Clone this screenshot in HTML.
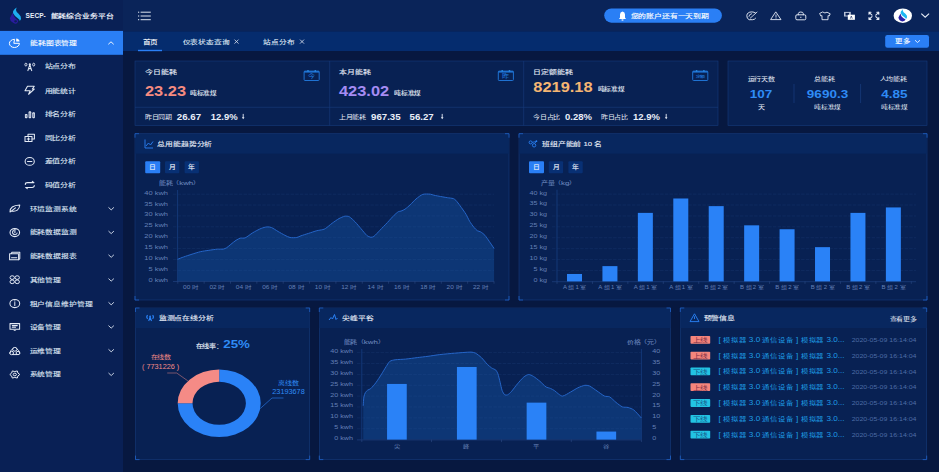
<!DOCTYPE html>
<html lang="zh-CN"><head><meta charset="utf-8"><style>
html,body{margin:0;padding:0;background:#071840;overflow:hidden}
svg{display:block;font-family:"Liberation Sans",sans-serif}
</style></head><body>
<svg width="939" height="472" viewBox="0 0 939 472">
<rect x="0" y="0" width="939.00" height="472.00" fill="#071840" />
<rect x="0" y="0" width="123.00" height="472.00" fill="#092055" />
<rect x="123" y="0" width="816.00" height="31.40" fill="#0a2459" />
<rect x="123" y="31.4" width="816.00" height="19.60" fill="#052c6e" />
<rect x="0" y="30.9" width="123.00" height="23.90" fill="#2a7ff5" />
<rect x="135" y="61" width="583.00" height="64.50" fill="#082153" stroke="#173b7c" stroke-width="0.6"/>
<line x1="329.7" y1="61" x2="329.7" y2="125.5" stroke="#173b7c" stroke-width="0.6" />
<line x1="523.7" y1="61" x2="523.7" y2="125.5" stroke="#173b7c" stroke-width="0.6" />
<line x1="135" y1="107.3" x2="718" y2="107.3" stroke="#173b7c" stroke-width="0.6" />
<rect x="728" y="61" width="199.00" height="64.50" fill="#082153" stroke="#173b7c" stroke-width="0.6"/>
<rect x="135" y="133.7" width="374.00" height="166.30" fill="#082153" stroke="#173b7c" stroke-width="0.6"/>
<rect x="135.3" y="134.0" width="373.40" height="19.70" fill="#08275f" />
<path d="M139 133.7 L135 133.7 L135 137.7" stroke="#1f62c8" stroke-width="0.8" fill="none"/>
<path d="M505 133.7 L509 133.7 L509 137.7" stroke="#1f62c8" stroke-width="0.8" fill="none"/>
<path d="M139 300 L135 300 L135 296" stroke="#1f62c8" stroke-width="0.8" fill="none"/>
<path d="M505 300 L509 300 L509 296" stroke="#1f62c8" stroke-width="0.8" fill="none"/>
<rect x="519" y="133.7" width="408.00" height="166.30" fill="#082153" stroke="#173b7c" stroke-width="0.6"/>
<rect x="519.3" y="134.0" width="407.40" height="19.70" fill="#08275f" />
<path d="M523 133.7 L519 133.7 L519 137.7" stroke="#1f62c8" stroke-width="0.8" fill="none"/>
<path d="M923 133.7 L927 133.7 L927 137.7" stroke="#1f62c8" stroke-width="0.8" fill="none"/>
<path d="M523 300 L519 300 L519 296" stroke="#1f62c8" stroke-width="0.8" fill="none"/>
<path d="M923 300 L927 300 L927 296" stroke="#1f62c8" stroke-width="0.8" fill="none"/>
<rect x="135.5" y="308" width="174.20" height="151.60" fill="#082153" stroke="#173b7c" stroke-width="0.6"/>
<rect x="135.8" y="308.3" width="173.60" height="19.70" fill="#08275f" />
<path d="M139.5 308 L135.5 308 L135.5 312" stroke="#1f62c8" stroke-width="0.8" fill="none"/>
<path d="M305.7 308 L309.7 308 L309.7 312" stroke="#1f62c8" stroke-width="0.8" fill="none"/>
<path d="M139.5 459.6 L135.5 459.6 L135.5 455.6" stroke="#1f62c8" stroke-width="0.8" fill="none"/>
<path d="M305.7 459.6 L309.7 459.6 L309.7 455.6" stroke="#1f62c8" stroke-width="0.8" fill="none"/>
<rect x="319.3" y="308" width="351.20" height="151.60" fill="#082153" stroke="#173b7c" stroke-width="0.6"/>
<rect x="319.6" y="308.3" width="350.60" height="19.70" fill="#08275f" />
<path d="M323.3 308 L319.3 308 L319.3 312" stroke="#1f62c8" stroke-width="0.8" fill="none"/>
<path d="M666.5 308 L670.5 308 L670.5 312" stroke="#1f62c8" stroke-width="0.8" fill="none"/>
<path d="M323.3 459.6 L319.3 459.6 L319.3 455.6" stroke="#1f62c8" stroke-width="0.8" fill="none"/>
<path d="M666.5 459.6 L670.5 459.6 L670.5 455.6" stroke="#1f62c8" stroke-width="0.8" fill="none"/>
<rect x="680.3" y="308" width="246.40" height="151.60" fill="#082153" stroke="#173b7c" stroke-width="0.6"/>
<rect x="680.5999999999999" y="308.3" width="245.80" height="19.70" fill="#08275f" />
<path d="M684.3 308 L680.3 308 L680.3 312" stroke="#1f62c8" stroke-width="0.8" fill="none"/>
<path d="M922.7 308 L926.7 308 L926.7 312" stroke="#1f62c8" stroke-width="0.8" fill="none"/>
<path d="M684.3 459.6 L680.3 459.6 L680.3 455.6" stroke="#1f62c8" stroke-width="0.8" fill="none"/>
<path d="M922.7 459.6 L926.7 459.6 L926.7 455.6" stroke="#1f62c8" stroke-width="0.8" fill="none"/>
<text transform="translate(25.60,18.24) scale(0.125,0.13365)" font-size="52.80" fill="#e8eef8" font-weight="700" text-anchor="start" >SECP-</text>
<text transform="translate(50.60,18.16) scale(0.125,0.09615)" font-size="62.40" fill="#e8eef8" font-weight="700" text-anchor="start" >能耗综合业务平台</text>
<text transform="translate(30.00,45.16) scale(0.125,0.09615)" font-size="62.40" fill="#ffffff" font-weight="500" text-anchor="start" stroke="#ffffff" stroke-width="0.96" >能耗图表管理</text>
<text transform="translate(44.50,68.09) scale(0.125,0.09615)" font-size="63.20" fill="#dfe6f3" font-weight="500" text-anchor="start" stroke="#dfe6f3" stroke-width="0.96" >站点分布</text>
<text transform="translate(44.50,92.59) scale(0.125,0.09615)" font-size="63.20" fill="#dfe6f3" font-weight="500" text-anchor="start" stroke="#dfe6f3" stroke-width="0.96" >用能统计</text>
<text transform="translate(44.50,116.39) scale(0.125,0.09615)" font-size="63.20" fill="#dfe6f3" font-weight="500" text-anchor="start" stroke="#dfe6f3" stroke-width="0.96" >排名分析</text>
<text transform="translate(44.50,139.59) scale(0.125,0.09615)" font-size="63.20" fill="#dfe6f3" font-weight="500" text-anchor="start" stroke="#dfe6f3" stroke-width="0.96" >同比分析</text>
<text transform="translate(44.50,163.39) scale(0.125,0.09615)" font-size="63.20" fill="#dfe6f3" font-weight="500" text-anchor="start" stroke="#dfe6f3" stroke-width="0.96" >差值分析</text>
<text transform="translate(44.50,187.29) scale(0.125,0.09615)" font-size="63.20" fill="#dfe6f3" font-weight="500" text-anchor="start" stroke="#dfe6f3" stroke-width="0.96" >码值分析</text>
<text transform="translate(29.60,210.76) scale(0.125,0.09615)" font-size="62.40" fill="#dfe6f3" font-weight="500" text-anchor="start" stroke="#dfe6f3" stroke-width="0.96" >环境监测系统</text>
<path d="M108.5 207.4 L111.2 209.9 L113.9 207.4" stroke="#dfe6f3" stroke-width="0.9" fill="none"/>
<text transform="translate(29.60,234.46) scale(0.125,0.09615)" font-size="62.40" fill="#dfe6f3" font-weight="500" text-anchor="start" stroke="#dfe6f3" stroke-width="0.96" >能耗数据监测</text>
<path d="M108.5 231.10000000000002 L111.2 233.60000000000002 L113.9 231.10000000000002" stroke="#dfe6f3" stroke-width="0.9" fill="none"/>
<text transform="translate(29.60,258.16) scale(0.125,0.09615)" font-size="62.40" fill="#dfe6f3" font-weight="500" text-anchor="start" stroke="#dfe6f3" stroke-width="0.96" >能耗数据报表</text>
<path d="M108.5 254.8 L111.2 257.3 L113.9 254.8" stroke="#dfe6f3" stroke-width="0.9" fill="none"/>
<text transform="translate(29.60,281.96) scale(0.125,0.09615)" font-size="62.40" fill="#dfe6f3" font-weight="500" text-anchor="start" stroke="#dfe6f3" stroke-width="0.96" >其他管理</text>
<path d="M108.5 278.6 L111.2 281.1 L113.9 278.6" stroke="#dfe6f3" stroke-width="0.9" fill="none"/>
<text transform="translate(29.60,305.66) scale(0.125,0.09615)" font-size="62.40" fill="#dfe6f3" font-weight="500" text-anchor="start" stroke="#dfe6f3" stroke-width="0.96" >租户信息维护管理</text>
<path d="M108.5 302.3 L111.2 304.8 L113.9 302.3" stroke="#dfe6f3" stroke-width="0.9" fill="none"/>
<text transform="translate(29.60,328.96) scale(0.125,0.09615)" font-size="62.40" fill="#dfe6f3" font-weight="500" text-anchor="start" stroke="#dfe6f3" stroke-width="0.96" >设备管理</text>
<path d="M108.5 325.6 L111.2 328.1 L113.9 325.6" stroke="#dfe6f3" stroke-width="0.9" fill="none"/>
<text transform="translate(29.60,352.66) scale(0.125,0.09615)" font-size="62.40" fill="#dfe6f3" font-weight="500" text-anchor="start" stroke="#dfe6f3" stroke-width="0.96" >运维管理</text>
<path d="M108.5 349.3 L111.2 351.8 L113.9 349.3" stroke="#dfe6f3" stroke-width="0.9" fill="none"/>
<text transform="translate(29.60,376.36) scale(0.125,0.09615)" font-size="62.40" fill="#dfe6f3" font-weight="500" text-anchor="start" stroke="#dfe6f3" stroke-width="0.96" >系统管理</text>
<path d="M108.5 373.0 L111.2 375.5 L113.9 373.0" stroke="#dfe6f3" stroke-width="0.9" fill="none"/>
<path d="M108.3 44.3 L111 41.8 L113.7 44.3" stroke="#ffffff" stroke-width="0.9" fill="none"/>
<line x1="140.6" y1="12.2" x2="150.8" y2="12.2" stroke="#e8eef8" stroke-width="0.95" />
<line x1="140.6" y1="16" x2="150.8" y2="16" stroke="#e8eef8" stroke-width="0.95" />
<line x1="140.6" y1="19.7" x2="150.8" y2="19.7" stroke="#e8eef8" stroke-width="0.95" />
<rect x="138" y="11.7" width="1.20" height="1.00" fill="#e8eef8" />
<rect x="138" y="15.5" width="1.20" height="1.00" fill="#e8eef8" />
<rect x="138" y="19.2" width="1.20" height="1.00" fill="#e8eef8" />
<rect x="604.2" y="8.5" width="117.7" height="14.2" rx="7.1" ry="7.1" fill="#2a7ff5"/>
<text transform="translate(630.50,17.99) scale(0.125,0.09615)" font-size="63.20" fill="#ffffff" font-weight="500" text-anchor="start" stroke="#ffffff" stroke-width="0.96" >您的账户还有一天到期</text>
<path d="M619 19 L626 19 L625 17.5 L625 14.5 Q625 11.8 622.5 11.5 Q620 11.8 620 14.5 L620 17.5 Z" fill="#ffffff"/><rect x="621.6" y="19.4" width="1.8" height="1.2" fill="#fff"/>
<path d="M921.3 13.6 L925.2 17.2 L929.1 13.6" stroke="#e8eef8" stroke-width="1.1" fill="none"/>
<ellipse cx="902.8" cy="15.7" rx="9.2" ry="7.2" fill="#ffffff"/>
<text transform="translate(142.50,43.72) scale(0.125,0.09615)" font-size="61.20" fill="#ffffff" font-weight="500" text-anchor="start" stroke="#ffffff" stroke-width="0.96" >首页</text>
<rect x="138" y="49.8" width="24.00" height="1.40" fill="#2a7ff5" />
<text transform="translate(182.60,43.72) scale(0.125,0.09615)" font-size="61.20" fill="#dfe6f3" font-weight="500" text-anchor="start" stroke="#dfe6f3" stroke-width="0.96" >仪表状态查询</text>
<text transform="translate(263.00,43.72) scale(0.125,0.09615)" font-size="61.20" fill="#dfe6f3" font-weight="500" text-anchor="start" stroke="#dfe6f3" stroke-width="0.96" >站点分布</text>
<path d="M234.5 39.6 L238.5 43.6 M238.5 39.6 L234.5 43.6" stroke="#dfe6f3" stroke-width="0.8"/>
<path d="M300 39.6 L304 43.6 M304 39.6 L300 43.6" stroke="#dfe6f3" stroke-width="0.8"/>
<rect x="885.2" y="35" width="43.8" height="12.7" rx="2.2" fill="#2a7ff5"/>
<text transform="translate(894.70,43.35) scale(0.125,0.09615)" font-size="59.20" fill="#ffffff" font-weight="500" text-anchor="start" stroke="#ffffff" stroke-width="0.96" >更多</text>
<path d="M915 40.2 L917.5 42.5 L920 40.2" stroke="#fff" stroke-width="0.8" fill="none"/>
<text transform="translate(145.00,74.39) scale(0.125,0.09615)" font-size="63.20" fill="#e8eef8" font-weight="500" text-anchor="start" stroke="#e8eef8" stroke-width="0.96" >今日能耗</text>
<text transform="translate(145.00,96.00) scale(0.125,0.10577)" font-size="131.20" fill="#f58b80" font-weight="700" text-anchor="start" >23.23</text>
<text transform="translate(190.00,94.86) scale(0.125,0.09615)" font-size="53.60" fill="#e8eef8" font-weight="500" text-anchor="start" stroke="#e8eef8" stroke-width="0.96" >吨标准煤</text>
<text transform="translate(145.00,118.74) scale(0.125,0.09615)" font-size="56.00" fill="#e8eef8" font-weight="400" text-anchor="start" >昨日同期</text>
<text transform="translate(176.80,119.97) scale(0.125,0.11346)" font-size="77.60" fill="#e8eef8" font-weight="700" text-anchor="start" >26.67</text>
<text transform="translate(210.80,119.90) scale(0.125,0.11346)" font-size="76.00" fill="#e8eef8" font-weight="700" text-anchor="start" >12.9%</text>
<path d="M243.2 113.9 L243.2 117.8" stroke="#e8eef8" stroke-width="0.9"/><path d="M241.89999999999998 117.3 L244.5 117.3 L243.2 119.3 Z" fill="#e8eef8"/>
<text transform="translate(339.00,74.39) scale(0.125,0.09615)" font-size="63.20" fill="#e8eef8" font-weight="500" text-anchor="start" stroke="#e8eef8" stroke-width="0.96" >本月能耗</text>
<text transform="translate(339.00,96.00) scale(0.125,0.10577)" font-size="131.20" fill="#a58cf3" font-weight="700" text-anchor="start" >423.02</text>
<text transform="translate(394.20,94.86) scale(0.125,0.09615)" font-size="53.60" fill="#e8eef8" font-weight="500" text-anchor="start" stroke="#e8eef8" stroke-width="0.96" >吨标准煤</text>
<text transform="translate(339.00,118.74) scale(0.125,0.09615)" font-size="56.00" fill="#e8eef8" font-weight="400" text-anchor="start" >上月能耗</text>
<text transform="translate(371.00,119.97) scale(0.125,0.11346)" font-size="77.60" fill="#e8eef8" font-weight="700" text-anchor="start" >967.35</text>
<text transform="translate(409.50,119.97) scale(0.125,0.11346)" font-size="77.60" fill="#e8eef8" font-weight="700" text-anchor="start" >56.27</text>
<path d="M442.2 113.9 L442.2 117.8" stroke="#e8eef8" stroke-width="0.9"/><path d="M440.9 117.3 L443.5 117.3 L442.2 119.3 Z" fill="#e8eef8"/>
<text transform="translate(533.30,74.39) scale(0.125,0.09615)" font-size="63.20" fill="#e8eef8" font-weight="500" text-anchor="start" stroke="#e8eef8" stroke-width="0.96" >日定额能耗</text>
<text transform="translate(533.30,91.70) scale(0.125,0.10577)" font-size="131.20" fill="#f5b572" font-weight="700" text-anchor="start" >8219.18</text>
<text transform="translate(597.50,90.56) scale(0.125,0.09615)" font-size="53.60" fill="#e8eef8" font-weight="500" text-anchor="start" stroke="#e8eef8" stroke-width="0.96" >吨标准煤</text>
<text transform="translate(533.30,118.74) scale(0.125,0.09615)" font-size="56.00" fill="#e8eef8" font-weight="400" text-anchor="start" >今日占比</text>
<text transform="translate(565.00,119.90) scale(0.125,0.11346)" font-size="76.00" fill="#e8eef8" font-weight="700" text-anchor="start" >0.28%</text>
<text transform="translate(601.00,118.74) scale(0.125,0.09615)" font-size="56.00" fill="#e8eef8" font-weight="400" text-anchor="start" >昨日占比</text>
<text transform="translate(633.00,119.90) scale(0.125,0.11346)" font-size="76.00" fill="#e8eef8" font-weight="700" text-anchor="start" >12.9%</text>
<path d="M666.2 113.9 L666.2 117.8" stroke="#e8eef8" stroke-width="0.9"/><path d="M664.9000000000001 117.3 L667.5 117.3 L666.2 119.3 Z" fill="#e8eef8"/>
<rect x="304.1" y="71.2" width="15.099999999999966" height="9.3" rx="0.8" fill="none" stroke="#1f72d2" stroke-width="1"/>
<rect x="304.1" y="70.9" width="15.10" height="1.70" fill="#1f72d2" />
<ellipse cx="308.0" cy="70.9" rx="0.9" ry="0.8" fill="#2a8ae0"/><ellipse cx="315.3" cy="70.9" rx="0.9" ry="0.8" fill="#2a8ae0"/>
<text transform="translate(311.65,78.48) scale(0.125,0.09615)" font-size="54.40" fill="#1f72d2" font-weight="500" text-anchor="middle" stroke="#1f72d2" stroke-width="0.96" >今</text>
<rect x="498.3" y="71.2" width="15.099999999999966" height="9.3" rx="0.8" fill="none" stroke="#1f72d2" stroke-width="1"/>
<rect x="498.3" y="70.9" width="15.10" height="1.70" fill="#1f72d2" />
<ellipse cx="502.2" cy="70.9" rx="0.9" ry="0.8" fill="#2a8ae0"/><ellipse cx="509.5" cy="70.9" rx="0.9" ry="0.8" fill="#2a8ae0"/>
<text transform="translate(505.85,78.48) scale(0.125,0.09615)" font-size="54.40" fill="#1f72d2" font-weight="500" text-anchor="middle" stroke="#1f72d2" stroke-width="0.96" >昨</text>
<rect x="692.7" y="71.2" width="15.099999999999909" height="9.3" rx="0.8" fill="none" stroke="#1f72d2" stroke-width="1"/>
<rect x="692.7" y="70.9" width="15.10" height="1.70" fill="#1f72d2" />
<ellipse cx="696.6" cy="70.9" rx="0.9" ry="0.8" fill="#2a8ae0"/><ellipse cx="703.9" cy="70.9" rx="0.9" ry="0.8" fill="#2a8ae0"/>
<text transform="translate(700.25,77.98) scale(0.125,0.09615)" font-size="40.00" fill="#1f72d2" font-weight="500" text-anchor="middle" stroke="#1f72d2" stroke-width="0.96" >定额</text>
<text transform="translate(761.00,80.94) scale(0.125,0.09615)" font-size="56.00" fill="#e8eef8" font-weight="400" text-anchor="middle" >运行天数</text>
<text transform="translate(761.00,97.54) scale(0.125,0.10385)" font-size="108.00" fill="#2f8cf6" font-weight="700" text-anchor="middle" >107</text>
<text transform="translate(761.00,109.44) scale(0.125,0.09615)" font-size="56.00" fill="#e8eef8" font-weight="400" text-anchor="middle" >天</text>
<text transform="translate(824.40,80.94) scale(0.125,0.09615)" font-size="56.00" fill="#e8eef8" font-weight="400" text-anchor="middle" >总能耗</text>
<text transform="translate(827.50,97.54) scale(0.125,0.10385)" font-size="108.00" fill="#2f8cf6" font-weight="700" text-anchor="middle" >9690.3</text>
<text transform="translate(827.50,109.36) scale(0.125,0.09615)" font-size="53.60" fill="#e8eef8" font-weight="400" text-anchor="middle" >吨标准煤</text>
<text transform="translate(893.00,80.94) scale(0.125,0.09615)" font-size="56.00" fill="#e8eef8" font-weight="400" text-anchor="middle" >人均能耗</text>
<text transform="translate(894.30,97.54) scale(0.125,0.10385)" font-size="108.00" fill="#2f8cf6" font-weight="700" text-anchor="middle" >4.85</text>
<text transform="translate(894.30,109.36) scale(0.125,0.09615)" font-size="53.60" fill="#e8eef8" font-weight="400" text-anchor="middle" >吨标准煤</text>
<line x1="794" y1="84" x2="794" y2="103" stroke="#173b7c" stroke-width="0.8" />
<line x1="860.6" y1="84" x2="860.6" y2="103" stroke="#173b7c" stroke-width="0.8" />
<text transform="translate(157.40,145.87) scale(0.125,0.09615)" font-size="62.80" fill="#e8eef8" font-weight="500" text-anchor="start" stroke="#e8eef8" stroke-width="0.96" >总用能趋势分析</text>
<path d="M145 139.5 L145 148 L153 148 M146 146 L148.5 143 L150.5 145 L153 141.5" stroke="#2a82f7" stroke-width="0.9" fill="none"/>
<rect x="145.2" y="161.2" width="15" height="12.1" rx="1" fill="#2a7ff5"/>
<text transform="translate(152.70,169.48) scale(0.125,0.09615)" font-size="54.40" fill="#e8eef8" font-weight="500" text-anchor="middle" stroke="#e8eef8" stroke-width="0.96" >日</text>
<rect x="165.0" y="161.2" width="14.3" height="12.1" rx="1" fill="#083074"/>
<text transform="translate(172.15,169.48) scale(0.125,0.09615)" font-size="54.40" fill="#e8eef8" font-weight="500" text-anchor="middle" stroke="#e8eef8" stroke-width="0.96" >月</text>
<rect x="184.6" y="161.2" width="14.3" height="12.1" rx="1" fill="#083074"/>
<text transform="translate(191.75,169.48) scale(0.125,0.09615)" font-size="54.40" fill="#e8eef8" font-weight="500" text-anchor="middle" stroke="#e8eef8" stroke-width="0.96" >年</text>
<text transform="translate(159.00,185.01) scale(0.125,0.09615)" font-size="55.20" fill="#6480b6" font-weight="500" text-anchor="start" stroke="#6480b6" stroke-width="0.96" >能耗（<tspan font-size="115%">kwh</tspan>）</text>
<path d="M177.50 259.30 C179.00 258.73 181.98 257.53 183.50 257.00 C185.61 256.26 189.87 254.87 192.00 254.20 C194.09 253.54 198.27 252.19 200.40 251.70 C202.49 251.22 206.77 250.61 208.90 250.30 C211.02 249.99 215.27 249.38 217.40 249.20 C218.87 249.08 221.87 249.33 223.30 249.10 C224.19 248.96 225.93 248.19 226.70 247.70 C227.83 246.99 229.84 245.14 230.90 244.30 C232.17 243.29 234.65 241.18 236.00 240.30 C237.00 239.65 239.17 238.50 240.30 238.20 C241.44 237.90 244.03 238.37 245.10 237.90 C247.13 237.02 250.73 233.96 252.70 232.80 C254.76 231.59 259.00 229.30 261.20 228.40 C262.60 227.83 265.61 227.03 267.10 226.90 C268.16 226.81 270.42 227.09 271.40 227.50 C273.17 228.24 276.41 230.52 278.10 231.50 C279.79 232.47 283.16 234.42 284.90 235.30 C286.14 235.92 288.66 237.25 290.00 237.50 C291.64 237.80 295.15 237.76 296.80 237.50 C297.90 237.33 299.93 236.17 301.00 235.80 C302.86 235.15 306.63 234.00 308.50 233.40 C310.60 232.73 314.77 231.26 316.90 230.70 C318.37 230.31 321.43 229.96 322.90 229.60 C323.55 229.44 324.85 228.98 325.40 228.60 C327.17 227.38 330.45 224.49 332.20 223.20 C333.85 221.99 337.21 219.59 339.00 218.60 C340.39 217.84 343.38 216.48 344.90 216.20 C345.93 216.01 348.29 216.19 349.20 216.70 C350.84 217.62 353.72 220.50 355.10 221.90 C356.67 223.50 359.53 227.00 361.00 228.70 C362.48 230.40 365.24 234.05 366.90 235.50 C367.71 236.20 369.88 237.17 370.90 237.30 C371.63 237.39 373.30 236.87 373.90 236.40 C375.52 235.14 378.33 231.91 379.80 230.40 C381.73 228.41 385.59 224.42 387.50 222.40 C389.19 220.62 392.45 216.92 394.20 215.20 C395.20 214.22 397.33 212.30 398.50 211.60 C399.03 211.28 400.41 211.32 401.00 211.10 C402.03 210.72 404.09 209.82 405.00 209.20 C406.37 208.27 408.88 206.03 410.10 204.90 C411.63 203.48 414.40 200.32 416.00 199.00 C417.57 197.70 420.93 195.02 422.80 194.40 C424.53 193.82 428.52 194.06 430.40 194.20 C431.27 194.26 432.94 195.01 433.80 195.20 C435.49 195.58 438.90 196.19 440.60 196.50 C442.30 196.81 445.70 197.42 447.40 197.70 C448.87 197.94 451.91 198.17 453.30 198.60 C454.01 198.82 455.29 199.76 455.80 200.30 C456.99 201.56 459.07 204.39 460.10 205.80 C461.62 207.89 464.65 212.10 466.00 214.30 C467.05 216.00 468.66 219.69 469.70 221.40 C470.64 222.94 472.76 225.90 473.90 227.30 C474.66 228.23 476.33 230.04 477.30 230.70 C478.03 231.19 479.94 231.44 480.70 231.90 C481.84 232.59 484.00 234.31 484.90 235.30 C486.13 236.66 488.14 239.79 489.20 241.30 C490.44 243.09 492.88 246.70 494.10 248.50 L494.1 281.2 L177.5 281.2 Z" fill="#0d3675"/>
<text transform="translate(168.00,281.68) scale(0.125,0.09615)" font-size="60.00" fill="#6480b6" font-weight="400" text-anchor="end" >0 kwh</text>
<line x1="173" y1="270.32" x2="494" y2="270.32" stroke="#3a6ab0" stroke-width="0.6" stroke-dasharray="3.5 1.2" stroke-opacity="0.22"/>
<text transform="translate(168.00,270.80) scale(0.125,0.09615)" font-size="60.00" fill="#6480b6" font-weight="400" text-anchor="end" >5 kwh</text>
<line x1="173" y1="259.44" x2="494" y2="259.44" stroke="#3a6ab0" stroke-width="0.6" stroke-dasharray="3.5 1.2" stroke-opacity="0.22"/>
<text transform="translate(168.00,259.92) scale(0.125,0.09615)" font-size="60.00" fill="#6480b6" font-weight="400" text-anchor="end" >10 kwh</text>
<line x1="173" y1="248.56" x2="494" y2="248.56" stroke="#3a6ab0" stroke-width="0.6" stroke-dasharray="3.5 1.2" stroke-opacity="0.22"/>
<text transform="translate(168.00,249.04) scale(0.125,0.09615)" font-size="60.00" fill="#6480b6" font-weight="400" text-anchor="end" >15 kwh</text>
<line x1="173" y1="237.67999999999998" x2="494" y2="237.67999999999998" stroke="#3a6ab0" stroke-width="0.6" stroke-dasharray="3.5 1.2" stroke-opacity="0.22"/>
<text transform="translate(168.00,238.16) scale(0.125,0.09615)" font-size="60.00" fill="#6480b6" font-weight="400" text-anchor="end" >20 kwh</text>
<line x1="173" y1="226.79999999999998" x2="494" y2="226.79999999999998" stroke="#3a6ab0" stroke-width="0.6" stroke-dasharray="3.5 1.2" stroke-opacity="0.22"/>
<text transform="translate(168.00,227.28) scale(0.125,0.09615)" font-size="60.00" fill="#6480b6" font-weight="400" text-anchor="end" >25 kwh</text>
<line x1="173" y1="215.92" x2="494" y2="215.92" stroke="#3a6ab0" stroke-width="0.6" stroke-dasharray="3.5 1.2" stroke-opacity="0.22"/>
<text transform="translate(168.00,216.40) scale(0.125,0.09615)" font-size="60.00" fill="#6480b6" font-weight="400" text-anchor="end" >30 kwh</text>
<line x1="173" y1="205.03999999999996" x2="494" y2="205.03999999999996" stroke="#3a6ab0" stroke-width="0.6" stroke-dasharray="3.5 1.2" stroke-opacity="0.22"/>
<text transform="translate(168.00,205.52) scale(0.125,0.09615)" font-size="60.00" fill="#6480b6" font-weight="400" text-anchor="end" >35 kwh</text>
<line x1="173" y1="194.15999999999997" x2="494" y2="194.15999999999997" stroke="#3a6ab0" stroke-width="0.6" stroke-dasharray="3.5 1.2" stroke-opacity="0.22"/>
<text transform="translate(168.00,194.64) scale(0.125,0.09615)" font-size="60.00" fill="#6480b6" font-weight="400" text-anchor="end" >40 kwh</text>
<line x1="173" y1="281.5" x2="494" y2="281.5" stroke="#1d3d7a" stroke-width="0.8" />
<line x1="177.6" y1="190" x2="177.6" y2="281.2" stroke="#153a7c" stroke-width="0.9" />
<line x1="177.8" y1="281.2" x2="177.8" y2="283.7" stroke="#2b4a85" stroke-width="0.6" />
<text transform="translate(190.97,289.20) scale(0.125,0.09615)" font-size="52.00" fill="#6480b6" font-weight="400" text-anchor="middle" >00 时</text>
<line x1="204.15" y1="281.2" x2="204.15" y2="283.7" stroke="#2b4a85" stroke-width="0.6" />
<text transform="translate(217.32,289.20) scale(0.125,0.09615)" font-size="52.00" fill="#6480b6" font-weight="400" text-anchor="middle" >02 时</text>
<line x1="230.5" y1="281.2" x2="230.5" y2="283.7" stroke="#2b4a85" stroke-width="0.6" />
<text transform="translate(243.67,289.20) scale(0.125,0.09615)" font-size="52.00" fill="#6480b6" font-weight="400" text-anchor="middle" >04 时</text>
<line x1="256.85" y1="281.2" x2="256.85" y2="283.7" stroke="#2b4a85" stroke-width="0.6" />
<text transform="translate(270.02,289.20) scale(0.125,0.09615)" font-size="52.00" fill="#6480b6" font-weight="400" text-anchor="middle" >06 时</text>
<line x1="283.20000000000005" y1="281.2" x2="283.20000000000005" y2="283.7" stroke="#2b4a85" stroke-width="0.6" />
<text transform="translate(296.37,289.20) scale(0.125,0.09615)" font-size="52.00" fill="#6480b6" font-weight="400" text-anchor="middle" >08 时</text>
<line x1="309.55" y1="281.2" x2="309.55" y2="283.7" stroke="#2b4a85" stroke-width="0.6" />
<text transform="translate(322.72,289.20) scale(0.125,0.09615)" font-size="52.00" fill="#6480b6" font-weight="400" text-anchor="middle" >10 时</text>
<line x1="335.90000000000003" y1="281.2" x2="335.90000000000003" y2="283.7" stroke="#2b4a85" stroke-width="0.6" />
<text transform="translate(349.07,289.20) scale(0.125,0.09615)" font-size="52.00" fill="#6480b6" font-weight="400" text-anchor="middle" >12 时</text>
<line x1="362.25" y1="281.2" x2="362.25" y2="283.7" stroke="#2b4a85" stroke-width="0.6" />
<text transform="translate(375.42,289.20) scale(0.125,0.09615)" font-size="52.00" fill="#6480b6" font-weight="400" text-anchor="middle" >14 时</text>
<line x1="388.6" y1="281.2" x2="388.6" y2="283.7" stroke="#2b4a85" stroke-width="0.6" />
<text transform="translate(401.77,289.20) scale(0.125,0.09615)" font-size="52.00" fill="#6480b6" font-weight="400" text-anchor="middle" >16 时</text>
<line x1="414.95000000000005" y1="281.2" x2="414.95000000000005" y2="283.7" stroke="#2b4a85" stroke-width="0.6" />
<text transform="translate(428.12,289.20) scale(0.125,0.09615)" font-size="52.00" fill="#6480b6" font-weight="400" text-anchor="middle" >18 时</text>
<line x1="441.3" y1="281.2" x2="441.3" y2="283.7" stroke="#2b4a85" stroke-width="0.6" />
<text transform="translate(454.47,289.20) scale(0.125,0.09615)" font-size="52.00" fill="#6480b6" font-weight="400" text-anchor="middle" >20 时</text>
<line x1="467.65000000000003" y1="281.2" x2="467.65000000000003" y2="283.7" stroke="#2b4a85" stroke-width="0.6" />
<text transform="translate(480.82,289.20) scale(0.125,0.09615)" font-size="52.00" fill="#6480b6" font-weight="400" text-anchor="middle" >22 时</text>
<line x1="494.00000000000006" y1="281.2" x2="494.00000000000006" y2="283.7" stroke="#2b4a85" stroke-width="0.6" />
<path d="M177.50 259.30 C179.00 258.73 181.98 257.53 183.50 257.00 C185.61 256.26 189.87 254.87 192.00 254.20 C194.09 253.54 198.27 252.19 200.40 251.70 C202.49 251.22 206.77 250.61 208.90 250.30 C211.02 249.99 215.27 249.38 217.40 249.20 C218.87 249.08 221.87 249.33 223.30 249.10 C224.19 248.96 225.93 248.19 226.70 247.70 C227.83 246.99 229.84 245.14 230.90 244.30 C232.17 243.29 234.65 241.18 236.00 240.30 C237.00 239.65 239.17 238.50 240.30 238.20 C241.44 237.90 244.03 238.37 245.10 237.90 C247.13 237.02 250.73 233.96 252.70 232.80 C254.76 231.59 259.00 229.30 261.20 228.40 C262.60 227.83 265.61 227.03 267.10 226.90 C268.16 226.81 270.42 227.09 271.40 227.50 C273.17 228.24 276.41 230.52 278.10 231.50 C279.79 232.47 283.16 234.42 284.90 235.30 C286.14 235.92 288.66 237.25 290.00 237.50 C291.64 237.80 295.15 237.76 296.80 237.50 C297.90 237.33 299.93 236.17 301.00 235.80 C302.86 235.15 306.63 234.00 308.50 233.40 C310.60 232.73 314.77 231.26 316.90 230.70 C318.37 230.31 321.43 229.96 322.90 229.60 C323.55 229.44 324.85 228.98 325.40 228.60 C327.17 227.38 330.45 224.49 332.20 223.20 C333.85 221.99 337.21 219.59 339.00 218.60 C340.39 217.84 343.38 216.48 344.90 216.20 C345.93 216.01 348.29 216.19 349.20 216.70 C350.84 217.62 353.72 220.50 355.10 221.90 C356.67 223.50 359.53 227.00 361.00 228.70 C362.48 230.40 365.24 234.05 366.90 235.50 C367.71 236.20 369.88 237.17 370.90 237.30 C371.63 237.39 373.30 236.87 373.90 236.40 C375.52 235.14 378.33 231.91 379.80 230.40 C381.73 228.41 385.59 224.42 387.50 222.40 C389.19 220.62 392.45 216.92 394.20 215.20 C395.20 214.22 397.33 212.30 398.50 211.60 C399.03 211.28 400.41 211.32 401.00 211.10 C402.03 210.72 404.09 209.82 405.00 209.20 C406.37 208.27 408.88 206.03 410.10 204.90 C411.63 203.48 414.40 200.32 416.00 199.00 C417.57 197.70 420.93 195.02 422.80 194.40 C424.53 193.82 428.52 194.06 430.40 194.20 C431.27 194.26 432.94 195.01 433.80 195.20 C435.49 195.58 438.90 196.19 440.60 196.50 C442.30 196.81 445.70 197.42 447.40 197.70 C448.87 197.94 451.91 198.17 453.30 198.60 C454.01 198.82 455.29 199.76 455.80 200.30 C456.99 201.56 459.07 204.39 460.10 205.80 C461.62 207.89 464.65 212.10 466.00 214.30 C467.05 216.00 468.66 219.69 469.70 221.40 C470.64 222.94 472.76 225.90 473.90 227.30 C474.66 228.23 476.33 230.04 477.30 230.70 C478.03 231.19 479.94 231.44 480.70 231.90 C481.84 232.59 484.00 234.31 484.90 235.30 C486.13 236.66 488.14 239.79 489.20 241.30 C490.44 243.09 492.88 246.70 494.10 248.50" stroke="#2565c8" stroke-width="1" fill="none"/>
<text transform="translate(542.00,146.17) scale(0.125,0.09615)" font-size="62.80" fill="#e8eef8" font-weight="500" text-anchor="start" stroke="#e8eef8" stroke-width="0.96" >班组产能前 10 名</text>
<circle cx="530.6" cy="142.4" r="1.5" fill="none" stroke="#2a82f7" stroke-width="0.85"/><circle cx="534.1" cy="145.3" r="1.7" fill="none" stroke="#2a82f7" stroke-width="0.85"/><circle cx="536.4" cy="141.2" r="0.9" fill="#2a82f7"/><path d="M532.1 142.4 L535.8 141.6 M534.6 143.6 L536 141.8" stroke="#2a82f7" stroke-width="0.8"/>
<rect x="529" y="161.2" width="15" height="12.1" rx="1" fill="#2a7ff5"/>
<text transform="translate(536.50,169.48) scale(0.125,0.09615)" font-size="54.40" fill="#e8eef8" font-weight="500" text-anchor="middle" stroke="#e8eef8" stroke-width="0.96" >日</text>
<rect x="548.8" y="161.2" width="14.3" height="12.1" rx="1" fill="#083074"/>
<text transform="translate(555.95,169.48) scale(0.125,0.09615)" font-size="54.40" fill="#e8eef8" font-weight="500" text-anchor="middle" stroke="#e8eef8" stroke-width="0.96" >月</text>
<rect x="568.4" y="161.2" width="14.3" height="12.1" rx="1" fill="#083074"/>
<text transform="translate(575.55,169.48) scale(0.125,0.09615)" font-size="54.40" fill="#e8eef8" font-weight="500" text-anchor="middle" stroke="#e8eef8" stroke-width="0.96" >年</text>
<text transform="translate(540.80,185.31) scale(0.125,0.09615)" font-size="55.20" fill="#6480b6" font-weight="500" text-anchor="start" stroke="#6480b6" stroke-width="0.96" >产量（<tspan font-size="115%">kg</tspan>）</text>
<text transform="translate(547.00,281.79) scale(0.125,0.09615)" font-size="57.60" fill="#6480b6" font-weight="400" text-anchor="end" >0 kg</text>
<line x1="552" y1="270.48999999999995" x2="916" y2="270.48999999999995" stroke="#3a6ab0" stroke-width="0.6" stroke-dasharray="3.5 1.2" stroke-opacity="0.22"/>
<text transform="translate(547.00,270.88) scale(0.125,0.09615)" font-size="57.60" fill="#6480b6" font-weight="400" text-anchor="end" >5 kg</text>
<line x1="552" y1="259.58" x2="916" y2="259.58" stroke="#3a6ab0" stroke-width="0.6" stroke-dasharray="3.5 1.2" stroke-opacity="0.22"/>
<text transform="translate(547.00,259.97) scale(0.125,0.09615)" font-size="57.60" fill="#6480b6" font-weight="400" text-anchor="end" >10 kg</text>
<line x1="552" y1="248.66999999999996" x2="916" y2="248.66999999999996" stroke="#3a6ab0" stroke-width="0.6" stroke-dasharray="3.5 1.2" stroke-opacity="0.22"/>
<text transform="translate(547.00,249.06) scale(0.125,0.09615)" font-size="57.60" fill="#6480b6" font-weight="400" text-anchor="end" >15 kg</text>
<line x1="552" y1="237.76" x2="916" y2="237.76" stroke="#3a6ab0" stroke-width="0.6" stroke-dasharray="3.5 1.2" stroke-opacity="0.22"/>
<text transform="translate(547.00,238.15) scale(0.125,0.09615)" font-size="57.60" fill="#6480b6" font-weight="400" text-anchor="end" >20 kg</text>
<line x1="552" y1="226.84999999999997" x2="916" y2="226.84999999999997" stroke="#3a6ab0" stroke-width="0.6" stroke-dasharray="3.5 1.2" stroke-opacity="0.22"/>
<text transform="translate(547.00,227.24) scale(0.125,0.09615)" font-size="57.60" fill="#6480b6" font-weight="400" text-anchor="end" >25 kg</text>
<line x1="552" y1="215.93999999999997" x2="916" y2="215.93999999999997" stroke="#3a6ab0" stroke-width="0.6" stroke-dasharray="3.5 1.2" stroke-opacity="0.22"/>
<text transform="translate(547.00,216.33) scale(0.125,0.09615)" font-size="57.60" fill="#6480b6" font-weight="400" text-anchor="end" >30 kg</text>
<line x1="552" y1="205.02999999999997" x2="916" y2="205.02999999999997" stroke="#3a6ab0" stroke-width="0.6" stroke-dasharray="3.5 1.2" stroke-opacity="0.22"/>
<text transform="translate(547.00,205.42) scale(0.125,0.09615)" font-size="57.60" fill="#6480b6" font-weight="400" text-anchor="end" >35 kg</text>
<line x1="552" y1="194.11999999999998" x2="916" y2="194.11999999999998" stroke="#3a6ab0" stroke-width="0.6" stroke-dasharray="3.5 1.2" stroke-opacity="0.22"/>
<text transform="translate(547.00,194.51) scale(0.125,0.09615)" font-size="57.60" fill="#6480b6" font-weight="400" text-anchor="end" >40 kg</text>
<line x1="552" y1="281.7" x2="916" y2="281.7" stroke="#1d3d7a" stroke-width="0.8" />
<line x1="557" y1="189.7" x2="557" y2="281.4" stroke="#153a7c" stroke-width="0.9" />
<rect x="567.0" y="273.9812" width="15.00" height="7.42" fill="#2a82f7" />
<text transform="translate(574.50,289.46) scale(0.125,0.09615)" font-size="48.00" fill="#6480b6" font-weight="400" text-anchor="middle" >A 组 1 室</text>
<rect x="602.43" y="266.126" width="15.00" height="15.27" fill="#2a82f7" />
<text transform="translate(609.93,289.46) scale(0.125,0.09615)" font-size="48.00" fill="#6480b6" font-weight="400" text-anchor="middle" >A 组 1 室</text>
<rect x="637.86" y="212.8852" width="15.00" height="68.51" fill="#2a82f7" />
<text transform="translate(645.36,289.46) scale(0.125,0.09615)" font-size="48.00" fill="#6480b6" font-weight="400" text-anchor="middle" >A 组 1 室</text>
<rect x="673.29" y="198.48399999999998" width="15.00" height="82.92" fill="#2a82f7" />
<text transform="translate(680.79,289.46) scale(0.125,0.09615)" font-size="48.00" fill="#6480b6" font-weight="400" text-anchor="middle" >A 组 1 室</text>
<rect x="708.72" y="206.12099999999998" width="15.00" height="75.28" fill="#2a82f7" />
<text transform="translate(716.22,289.46) scale(0.125,0.09615)" font-size="48.00" fill="#6480b6" font-weight="400" text-anchor="middle" >B 组 2 室</text>
<rect x="744.15" y="225.32259999999997" width="15.00" height="56.08" fill="#2a82f7" />
<text transform="translate(751.65,289.46) scale(0.125,0.09615)" font-size="48.00" fill="#6480b6" font-weight="400" text-anchor="middle" >B 组 2 室</text>
<rect x="779.5799999999999" y="229.25019999999998" width="15.00" height="52.15" fill="#2a82f7" />
<text transform="translate(787.08,289.46) scale(0.125,0.09615)" font-size="48.00" fill="#6480b6" font-weight="400" text-anchor="middle" >B 组 2 室</text>
<rect x="815.01" y="247.1426" width="15.00" height="34.26" fill="#2a82f7" />
<text transform="translate(822.51,289.46) scale(0.125,0.09615)" font-size="48.00" fill="#6480b6" font-weight="400" text-anchor="middle" >B 组 2 室</text>
<rect x="850.44" y="212.8852" width="15.00" height="68.51" fill="#2a82f7" />
<text transform="translate(857.94,289.46) scale(0.125,0.09615)" font-size="48.00" fill="#6480b6" font-weight="400" text-anchor="middle" >B 组 2 室</text>
<rect x="885.87" y="207.43019999999999" width="15.00" height="73.97" fill="#2a82f7" />
<text transform="translate(893.37,289.46) scale(0.125,0.09615)" font-size="48.00" fill="#6480b6" font-weight="400" text-anchor="middle" >B 组 2 室</text>
<line x1="557.0" y1="281.4" x2="557.0" y2="283.9" stroke="#2b4a85" stroke-width="0.6" />
<line x1="592.43" y1="281.4" x2="592.43" y2="283.9" stroke="#2b4a85" stroke-width="0.6" />
<line x1="627.86" y1="281.4" x2="627.86" y2="283.9" stroke="#2b4a85" stroke-width="0.6" />
<line x1="663.29" y1="281.4" x2="663.29" y2="283.9" stroke="#2b4a85" stroke-width="0.6" />
<line x1="698.72" y1="281.4" x2="698.72" y2="283.9" stroke="#2b4a85" stroke-width="0.6" />
<line x1="734.15" y1="281.4" x2="734.15" y2="283.9" stroke="#2b4a85" stroke-width="0.6" />
<line x1="769.5799999999999" y1="281.4" x2="769.5799999999999" y2="283.9" stroke="#2b4a85" stroke-width="0.6" />
<line x1="805.01" y1="281.4" x2="805.01" y2="283.9" stroke="#2b4a85" stroke-width="0.6" />
<line x1="840.44" y1="281.4" x2="840.44" y2="283.9" stroke="#2b4a85" stroke-width="0.6" />
<line x1="875.87" y1="281.4" x2="875.87" y2="283.9" stroke="#2b4a85" stroke-width="0.6" />
<line x1="911.3" y1="281.4" x2="911.3" y2="283.9" stroke="#2b4a85" stroke-width="0.6" />
<text transform="translate(158.80,320.17) scale(0.125,0.09615)" font-size="62.80" fill="#e8eef8" font-weight="500" text-anchor="start" stroke="#e8eef8" stroke-width="0.96" >监测点在线分析</text>
<path d="M147.6 315.2 Q145.9 317 147.6 318.8 M152.6 315.2 Q154.3 317 152.6 318.8" stroke="#2a82f7" stroke-width="1.1" fill="none"/><path d="M150.1 316.8 L148.7 321 M150.1 316.8 L151.5 321 M149.2 319.4 L151 319.4" stroke="#2a82f7" stroke-width="1.1" fill="none"/><circle cx="150.1" cy="316.3" r="0.9" fill="#2a82f7"/>
<text transform="translate(195.70,348.14) scale(0.125,0.09615)" font-size="56.00" fill="#e8eef8" font-weight="500" text-anchor="start" stroke="#e8eef8" stroke-width="0.96" >在线率：</text>
<text transform="translate(223.30,348.17) scale(0.125,0.10096)" font-size="106.40" fill="#2f8cf6" font-weight="700" text-anchor="start" >25%</text>
<text transform="translate(160.60,359.24) scale(0.125,0.09615)" font-size="56.00" fill="#f58b86" font-weight="400" text-anchor="middle" >在线数</text>
<text transform="translate(160.60,368.52) scale(0.125,0.11058)" font-size="58.40" fill="#f58b86" font-weight="400" text-anchor="middle" >( 7731226 )</text>
<text transform="translate(288.50,385.24) scale(0.125,0.09615)" font-size="56.00" fill="#2f8cf6" font-weight="400" text-anchor="middle" >离线数</text>
<text transform="translate(288.50,394.12) scale(0.125,0.11058)" font-size="58.40" fill="#2f8cf6" font-weight="400" text-anchor="middle" >23193678</text>
<path d="M219.2 369.5 A41.5 33.8 0 1 1 177.7 403.3 L192.5 403.3 A26.7 21.5 0 1 0 219.2 381.8 Z" fill="#2a82f7"/>
<path d="M177.7 403.3 A41.5 33.8 0 0 1 219.2 369.5 L219.2 381.8 A26.7 21.5 0 0 0 192.5 403.3 Z" fill="#f58b86"/>
<path d="M167.2 373 L176.7 373 L187.9 380.9" stroke="#f58b86" stroke-width="0.6" fill="none" opacity="0.8"/>
<path d="M260.2 408.6 L272 398 L283.5 398" stroke="#2a82f7" stroke-width="0.6" fill="none"/>
<text transform="translate(342.00,319.67) scale(0.125,0.09615)" font-size="62.80" fill="#e8eef8" font-weight="500" text-anchor="start" stroke="#e8eef8" stroke-width="0.96" >尖峰平谷</text>
<text transform="translate(343.60,343.91) scale(0.125,0.09615)" font-size="55.20" fill="#6480b6" font-weight="500" text-anchor="start" stroke="#6480b6" stroke-width="0.96" >能耗（<tspan font-size="115%">kwh</tspan>）</text>
<text transform="translate(626.80,343.91) scale(0.125,0.09615)" font-size="55.20" fill="#6480b6" font-weight="500" text-anchor="start" stroke="#6480b6" stroke-width="0.96" >价格（元）</text>
<path d="M363.20 405.80 C363.38 403.57 363.54 399.09 363.90 396.90 C364.09 395.76 364.85 393.49 365.40 392.50 C365.78 391.82 366.97 390.66 367.60 390.20 C368.27 389.71 369.99 389.25 370.60 388.70 C372.04 387.40 374.62 384.37 375.80 382.80 C377.40 380.67 380.26 376.15 381.70 373.90 C382.86 372.08 385.02 368.31 386.20 366.50 C387.07 365.16 388.70 362.21 389.90 361.30 C390.92 360.53 393.77 359.99 395.10 359.80 C397.67 359.44 402.91 359.36 405.50 359.10 C408.46 358.81 414.35 357.97 417.30 357.60 C419.97 357.27 425.33 356.66 428.00 356.30 C430.95 355.91 436.84 354.94 439.80 354.60 C443.52 354.17 450.97 353.50 454.70 353.20 C458.77 352.87 466.94 352.12 471.00 352.10 C472.12 352.09 474.42 352.58 475.40 353.10 C477.02 353.96 480.04 356.32 481.40 357.60 C483.02 359.12 485.73 362.72 487.30 364.30 C488.31 365.32 490.52 367.20 491.70 368.00 C492.65 368.65 494.99 369.35 495.80 370.10 C496.54 370.80 497.55 372.81 497.90 373.80 C498.62 375.83 499.56 380.10 500.10 382.20 C500.64 384.32 501.45 388.67 502.20 390.70 C502.62 391.85 503.94 394.22 504.80 394.90 C505.27 395.27 506.93 395.18 507.50 394.90 C508.53 394.40 510.40 392.69 511.20 391.80 C512.90 389.92 515.85 385.74 517.50 383.80 C519.02 382.01 522.12 378.38 523.90 376.90 C524.92 376.06 527.48 374.56 528.70 374.50 C529.85 374.44 532.32 375.75 533.40 376.40 C535.10 377.43 538.27 379.92 539.80 381.20 C541.44 382.57 544.37 385.82 546.10 387.00 C547.02 387.62 549.37 387.95 550.40 388.40 C551.49 388.88 553.62 390.02 554.60 390.70 C555.72 391.47 557.67 393.44 558.80 394.20 C559.67 394.79 561.65 396.26 562.60 396.10 C564.53 395.76 568.40 393.23 570.30 392.20 C572.23 391.15 575.92 388.73 577.90 387.80 C579.57 387.01 583.12 385.60 584.90 385.30 C585.97 385.12 588.32 385.44 589.30 385.90 C591.34 386.86 595.08 389.72 597.00 391.00 C598.90 392.27 602.57 395.16 604.60 396.10 C605.74 396.63 608.61 396.30 609.70 396.90 C611.46 397.87 614.36 401.11 616.00 402.40 C617.53 403.61 620.65 406.16 622.40 406.90 C623.68 407.44 626.73 407.13 628.10 407.50 C629.58 407.90 632.60 409.05 633.80 410.00 C635.93 411.68 639.50 416.00 641.40 418.00 L641.4 439.6 L363.2 439.6 Z" fill="#0d3675"/>
<text transform="translate(353.00,439.99) scale(0.125,0.09615)" font-size="57.60" fill="#6480b6" font-weight="400" text-anchor="end" >0 kwh</text>
<text transform="translate(652.30,439.99) scale(0.125,0.09615)" font-size="57.60" fill="#6480b6" font-weight="400" text-anchor="start" >0</text>
<line x1="357" y1="428.73" x2="641.4" y2="428.73" stroke="#3a6ab0" stroke-width="0.6" stroke-dasharray="3.5 1.2" stroke-opacity="0.22"/>
<text transform="translate(353.00,429.12) scale(0.125,0.09615)" font-size="57.60" fill="#6480b6" font-weight="400" text-anchor="end" >5 kwh</text>
<text transform="translate(652.30,429.12) scale(0.125,0.09615)" font-size="57.60" fill="#6480b6" font-weight="400" text-anchor="start" >5</text>
<line x1="357" y1="417.86" x2="641.4" y2="417.86" stroke="#3a6ab0" stroke-width="0.6" stroke-dasharray="3.5 1.2" stroke-opacity="0.22"/>
<text transform="translate(353.00,418.25) scale(0.125,0.09615)" font-size="57.60" fill="#6480b6" font-weight="400" text-anchor="end" >10 kwh</text>
<text transform="translate(652.30,418.25) scale(0.125,0.09615)" font-size="57.60" fill="#6480b6" font-weight="400" text-anchor="start" >10</text>
<line x1="357" y1="406.99" x2="641.4" y2="406.99" stroke="#3a6ab0" stroke-width="0.6" stroke-dasharray="3.5 1.2" stroke-opacity="0.22"/>
<text transform="translate(353.00,407.38) scale(0.125,0.09615)" font-size="57.60" fill="#6480b6" font-weight="400" text-anchor="end" >15 kwh</text>
<text transform="translate(652.30,407.38) scale(0.125,0.09615)" font-size="57.60" fill="#6480b6" font-weight="400" text-anchor="start" >15</text>
<line x1="357" y1="396.12" x2="641.4" y2="396.12" stroke="#3a6ab0" stroke-width="0.6" stroke-dasharray="3.5 1.2" stroke-opacity="0.22"/>
<text transform="translate(353.00,396.51) scale(0.125,0.09615)" font-size="57.60" fill="#6480b6" font-weight="400" text-anchor="end" >20 kwh</text>
<text transform="translate(652.30,396.51) scale(0.125,0.09615)" font-size="57.60" fill="#6480b6" font-weight="400" text-anchor="start" >20</text>
<line x1="357" y1="385.25" x2="641.4" y2="385.25" stroke="#3a6ab0" stroke-width="0.6" stroke-dasharray="3.5 1.2" stroke-opacity="0.22"/>
<text transform="translate(353.00,385.64) scale(0.125,0.09615)" font-size="57.60" fill="#6480b6" font-weight="400" text-anchor="end" >25 kwh</text>
<text transform="translate(652.30,385.64) scale(0.125,0.09615)" font-size="57.60" fill="#6480b6" font-weight="400" text-anchor="start" >25</text>
<line x1="357" y1="374.38" x2="641.4" y2="374.38" stroke="#3a6ab0" stroke-width="0.6" stroke-dasharray="3.5 1.2" stroke-opacity="0.22"/>
<text transform="translate(353.00,374.77) scale(0.125,0.09615)" font-size="57.60" fill="#6480b6" font-weight="400" text-anchor="end" >30 kwh</text>
<text transform="translate(652.30,374.77) scale(0.125,0.09615)" font-size="57.60" fill="#6480b6" font-weight="400" text-anchor="start" >30</text>
<line x1="357" y1="363.51000000000005" x2="641.4" y2="363.51000000000005" stroke="#3a6ab0" stroke-width="0.6" stroke-dasharray="3.5 1.2" stroke-opacity="0.22"/>
<text transform="translate(353.00,363.90) scale(0.125,0.09615)" font-size="57.60" fill="#6480b6" font-weight="400" text-anchor="end" >35 kwh</text>
<text transform="translate(652.30,363.90) scale(0.125,0.09615)" font-size="57.60" fill="#6480b6" font-weight="400" text-anchor="start" >35</text>
<line x1="357" y1="352.64000000000004" x2="641.4" y2="352.64000000000004" stroke="#3a6ab0" stroke-width="0.6" stroke-dasharray="3.5 1.2" stroke-opacity="0.22"/>
<text transform="translate(353.00,353.03) scale(0.125,0.09615)" font-size="57.60" fill="#6480b6" font-weight="400" text-anchor="end" >40 kwh</text>
<text transform="translate(652.30,353.03) scale(0.125,0.09615)" font-size="57.60" fill="#6480b6" font-weight="400" text-anchor="start" >40</text>
<line x1="357" y1="439.90000000000003" x2="641.4" y2="439.90000000000003" stroke="#1d3d7a" stroke-width="0.8" />
<line x1="361.8" y1="349" x2="361.8" y2="439.6" stroke="#153a7c" stroke-width="0.9" />
<line x1="641.4" y1="349" x2="641.4" y2="439.6" stroke="#153a7c" stroke-width="0.9" />
<path d="M363.20 405.80 C363.38 403.57 363.54 399.09 363.90 396.90 C364.09 395.76 364.85 393.49 365.40 392.50 C365.78 391.82 366.97 390.66 367.60 390.20 C368.27 389.71 369.99 389.25 370.60 388.70 C372.04 387.40 374.62 384.37 375.80 382.80 C377.40 380.67 380.26 376.15 381.70 373.90 C382.86 372.08 385.02 368.31 386.20 366.50 C387.07 365.16 388.70 362.21 389.90 361.30 C390.92 360.53 393.77 359.99 395.10 359.80 C397.67 359.44 402.91 359.36 405.50 359.10 C408.46 358.81 414.35 357.97 417.30 357.60 C419.97 357.27 425.33 356.66 428.00 356.30 C430.95 355.91 436.84 354.94 439.80 354.60 C443.52 354.17 450.97 353.50 454.70 353.20 C458.77 352.87 466.94 352.12 471.00 352.10 C472.12 352.09 474.42 352.58 475.40 353.10 C477.02 353.96 480.04 356.32 481.40 357.60 C483.02 359.12 485.73 362.72 487.30 364.30 C488.31 365.32 490.52 367.20 491.70 368.00 C492.65 368.65 494.99 369.35 495.80 370.10 C496.54 370.80 497.55 372.81 497.90 373.80 C498.62 375.83 499.56 380.10 500.10 382.20 C500.64 384.32 501.45 388.67 502.20 390.70 C502.62 391.85 503.94 394.22 504.80 394.90 C505.27 395.27 506.93 395.18 507.50 394.90 C508.53 394.40 510.40 392.69 511.20 391.80 C512.90 389.92 515.85 385.74 517.50 383.80 C519.02 382.01 522.12 378.38 523.90 376.90 C524.92 376.06 527.48 374.56 528.70 374.50 C529.85 374.44 532.32 375.75 533.40 376.40 C535.10 377.43 538.27 379.92 539.80 381.20 C541.44 382.57 544.37 385.82 546.10 387.00 C547.02 387.62 549.37 387.95 550.40 388.40 C551.49 388.88 553.62 390.02 554.60 390.70 C555.72 391.47 557.67 393.44 558.80 394.20 C559.67 394.79 561.65 396.26 562.60 396.10 C564.53 395.76 568.40 393.23 570.30 392.20 C572.23 391.15 575.92 388.73 577.90 387.80 C579.57 387.01 583.12 385.60 584.90 385.30 C585.97 385.12 588.32 385.44 589.30 385.90 C591.34 386.86 595.08 389.72 597.00 391.00 C598.90 392.27 602.57 395.16 604.60 396.10 C605.74 396.63 608.61 396.30 609.70 396.90 C611.46 397.87 614.36 401.11 616.00 402.40 C617.53 403.61 620.65 406.16 622.40 406.90 C623.68 407.44 626.73 407.13 628.10 407.50 C629.58 407.90 632.60 409.05 633.80 410.00 C635.93 411.68 639.50 416.00 641.40 418.00" stroke="#2565c8" stroke-width="1" fill="none"/>
<rect x="387.04999999999995" y="383.9456" width="19.70" height="55.65" fill="#2a82f7" />
<text transform="translate(396.90,447.64) scale(0.125,0.09615)" font-size="50.40" fill="#6480b6" font-weight="400" text-anchor="middle" >尖</text>
<rect x="456.95" y="366.9884" width="19.70" height="72.61" fill="#2a82f7" />
<text transform="translate(466.80,447.64) scale(0.125,0.09615)" font-size="50.40" fill="#6480b6" font-weight="400" text-anchor="middle" >峰</text>
<rect x="526.65" y="402.64200000000005" width="19.70" height="36.96" fill="#2a82f7" />
<text transform="translate(536.50,447.64) scale(0.125,0.09615)" font-size="50.40" fill="#6480b6" font-weight="400" text-anchor="middle" >平</text>
<rect x="596.4499999999999" y="431.55620000000005" width="19.70" height="8.04" fill="#2a82f7" />
<text transform="translate(606.30,447.64) scale(0.125,0.09615)" font-size="50.40" fill="#6480b6" font-weight="400" text-anchor="middle" >谷</text>
<line x1="361.8" y1="439.6" x2="361.8" y2="442.1" stroke="#2b4a85" stroke-width="0.6" />
<line x1="431.5" y1="439.6" x2="431.5" y2="442.1" stroke="#2b4a85" stroke-width="0.6" />
<line x1="501.5" y1="439.6" x2="501.5" y2="442.1" stroke="#2b4a85" stroke-width="0.6" />
<line x1="571.3" y1="439.6" x2="571.3" y2="442.1" stroke="#2b4a85" stroke-width="0.6" />
<line x1="641.4" y1="439.6" x2="641.4" y2="442.1" stroke="#2b4a85" stroke-width="0.6" />
<path d="M329 320 L331 317.5 L332.5 319 L334.5 314.5 L336 319.5 L337.5 318" stroke="#2a82f7" stroke-width="1" fill="none"/>
<path d="M694.5 313.8 L699 321.6 L690 321.6 Z" stroke="#2a82f7" stroke-width="0.9" fill="none"/><line x1="694.5" y1="316.3" x2="694.5" y2="319" stroke="#2a82f7" stroke-width="0.9"/>
<text transform="translate(703.60,320.17) scale(0.125,0.09615)" font-size="62.80" fill="#e8eef8" font-weight="500" text-anchor="start" stroke="#e8eef8" stroke-width="0.96" >预警信息</text>
<text transform="translate(916.50,320.51) scale(0.125,0.09615)" font-size="55.20" fill="#e8eef8" font-weight="400" text-anchor="end" >查看更多</text>
<rect x="690.5" y="335.90" width="19.7" height="7.8" rx="0.8" fill="#f4857c"/>
<text transform="translate(700.35,342.10) scale(0.125,0.09615)" font-size="60.80" fill="#7e3046" font-weight="400" text-anchor="middle" >上线</text>
<text transform="translate(718.50,341.82) scale(0.125,0.09615)" font-size="58.40" fill="#1e9ee6" font-weight="400" text-anchor="start" ><tspan font-size="112%">[ </tspan>模拟器<tspan font-size="112%"> 3.0 </tspan>通信设备<tspan font-size="112%"> ] </tspan>模拟器<tspan font-size="112%"> 3.0...</tspan></text>
<text transform="translate(916.50,341.93) scale(0.125,0.10577)" font-size="56.00" fill="#4e6da6" font-weight="400" text-anchor="end" >2020-05-09 16:14:04</text>
<rect x="690.5" y="351.70" width="19.7" height="7.8" rx="0.8" fill="#f4857c"/>
<text transform="translate(700.35,357.90) scale(0.125,0.09615)" font-size="60.80" fill="#7e3046" font-weight="400" text-anchor="middle" >上线</text>
<text transform="translate(718.50,357.62) scale(0.125,0.09615)" font-size="58.40" fill="#1e9ee6" font-weight="400" text-anchor="start" ><tspan font-size="112%">[ </tspan>模拟器<tspan font-size="112%"> 3.0 </tspan>通信设备<tspan font-size="112%"> ] </tspan>模拟器<tspan font-size="112%"> 3.0...</tspan></text>
<text transform="translate(916.50,357.73) scale(0.125,0.10577)" font-size="56.00" fill="#4e6da6" font-weight="400" text-anchor="end" >2020-05-09 16:14:04</text>
<rect x="690.5" y="367.50" width="19.7" height="7.8" rx="0.8" fill="#22c3e3"/>
<text transform="translate(700.35,373.70) scale(0.125,0.09615)" font-size="60.80" fill="#175a8c" font-weight="400" text-anchor="middle" >下线</text>
<text transform="translate(718.50,373.42) scale(0.125,0.09615)" font-size="58.40" fill="#1e9ee6" font-weight="400" text-anchor="start" ><tspan font-size="112%">[ </tspan>模拟器<tspan font-size="112%"> 3.0 </tspan>通信设备<tspan font-size="112%"> ] </tspan>模拟器<tspan font-size="112%"> 3.0...</tspan></text>
<text transform="translate(916.50,373.53) scale(0.125,0.10577)" font-size="56.00" fill="#4e6da6" font-weight="400" text-anchor="end" >2020-05-09 16:14:04</text>
<rect x="690.5" y="383.30" width="19.7" height="7.8" rx="0.8" fill="#f4857c"/>
<text transform="translate(700.35,389.50) scale(0.125,0.09615)" font-size="60.80" fill="#7e3046" font-weight="400" text-anchor="middle" >上线</text>
<text transform="translate(718.50,389.22) scale(0.125,0.09615)" font-size="58.40" fill="#1e9ee6" font-weight="400" text-anchor="start" ><tspan font-size="112%">[ </tspan>模拟器<tspan font-size="112%"> 3.0 </tspan>通信设备<tspan font-size="112%"> ] </tspan>模拟器<tspan font-size="112%"> 3.0...</tspan></text>
<text transform="translate(916.50,389.33) scale(0.125,0.10577)" font-size="56.00" fill="#4e6da6" font-weight="400" text-anchor="end" >2020-05-09 16:14:04</text>
<rect x="690.5" y="399.10" width="19.7" height="7.8" rx="0.8" fill="#22c3e3"/>
<text transform="translate(700.35,405.30) scale(0.125,0.09615)" font-size="60.80" fill="#175a8c" font-weight="400" text-anchor="middle" >下线</text>
<text transform="translate(718.50,405.02) scale(0.125,0.09615)" font-size="58.40" fill="#1e9ee6" font-weight="400" text-anchor="start" ><tspan font-size="112%">[ </tspan>模拟器<tspan font-size="112%"> 3.0 </tspan>通信设备<tspan font-size="112%"> ] </tspan>模拟器<tspan font-size="112%"> 3.0...</tspan></text>
<text transform="translate(916.50,405.13) scale(0.125,0.10577)" font-size="56.00" fill="#4e6da6" font-weight="400" text-anchor="end" >2020-05-09 16:14:04</text>
<rect x="690.5" y="414.90" width="19.7" height="7.8" rx="0.8" fill="#22c3e3"/>
<text transform="translate(700.35,421.10) scale(0.125,0.09615)" font-size="60.80" fill="#175a8c" font-weight="400" text-anchor="middle" >下线</text>
<text transform="translate(718.50,420.82) scale(0.125,0.09615)" font-size="58.40" fill="#1e9ee6" font-weight="400" text-anchor="start" ><tspan font-size="112%">[ </tspan>模拟器<tspan font-size="112%"> 3.0 </tspan>通信设备<tspan font-size="112%"> ] </tspan>模拟器<tspan font-size="112%"> 3.0...</tspan></text>
<text transform="translate(916.50,420.93) scale(0.125,0.10577)" font-size="56.00" fill="#4e6da6" font-weight="400" text-anchor="end" >2020-05-09 16:14:04</text>
<rect x="690.5" y="430.70" width="19.7" height="7.8" rx="0.8" fill="#22c3e3"/>
<text transform="translate(700.35,436.90) scale(0.125,0.09615)" font-size="60.80" fill="#175a8c" font-weight="400" text-anchor="middle" >下线</text>
<text transform="translate(718.50,436.62) scale(0.125,0.09615)" font-size="58.40" fill="#1e9ee6" font-weight="400" text-anchor="start" ><tspan font-size="112%">[ </tspan>模拟器<tspan font-size="112%"> 3.0 </tspan>通信设备<tspan font-size="112%"> ] </tspan>模拟器<tspan font-size="112%"> 3.0...</tspan></text>
<text transform="translate(916.50,436.73) scale(0.125,0.10577)" font-size="56.00" fill="#4e6da6" font-weight="400" text-anchor="end" >2020-05-09 16:14:04</text>
<path d="M12.7 12.8 L9.8 18.3 Q10.2 21.6 12.8 22.6 Q14.5 24.2 16.6 23.4 Q18.6 22.4 18.2 20.6 Q16 19.5 13.8 16 Z" fill="#2a1c9e"/>
<ellipse cx="15.6" cy="21.3" rx="1.4" ry="1.1" fill="#092055"/>
<path d="M16.6 7.4 Q12.2 10.3 13.1 13.2 Q14.5 16 17.8 18.2 Q20.2 19.8 19.8 21 Q21.8 18.5 20.6 16.2 Q19 13.8 16.8 12 Q15.2 10.2 16.6 7.4 Z" fill="#1eaef0"/>
<path d="M14.2 39.3 A5 4.1 0 1 0 19.4 43.3 L14.2 43.3 Z" stroke="#ffffff" stroke-width="1.0" fill="none" stroke-linecap="round" stroke-linejoin="round" />
<path d="M16.2 38.6 L16.2 41.5 L19.6 41.5 Q19.3 38.9 16.2 38.6 Z" fill="#ffffff"/>
<ellipse cx="25.9" cy="64.6" rx="1.05" ry="1.4" fill="none" stroke="#e4eaf5" stroke-width="0.9"/><ellipse cx="33.7" cy="64.6" rx="1.05" ry="1.4" fill="none" stroke="#e4eaf5" stroke-width="0.9"/>
<path d="M29.8 64.6 L27.9 70.6 M29.8 64.6 L31.7 70.6 M28.6 68.6 L31 68.6" stroke="#e4eaf5" stroke-width="1.05" fill="none" stroke-linecap="round" stroke-linejoin="round" />
<circle cx="29.8" cy="64.4" r="1.1" fill="#e4eaf5"/>
<path d="M27.5 86.2 L34.3 86.2 L32.3 89 L34.3 89 L28.6 94.3 L30.2 90.8 L25 90.8 Z" stroke="#e4eaf5" stroke-width="1.05" fill="none" stroke-linecap="round" stroke-linejoin="round" />
<rect x="24.9" y="113.9" width="2.6" height="4.3" rx="0.9" fill="#e4eaf5"/>
<rect x="25.7" y="115.10000000000001" width="1" height="2.1" fill="#0b2055" opacity="0.5"/>
<rect x="28.6" y="111.3" width="2.6" height="6.9" rx="0.9" fill="#e4eaf5"/>
<rect x="29.400000000000002" y="112.5" width="1" height="4.7" fill="#0b2055" opacity="0.5"/>
<rect x="32.3" y="112.3" width="2.6" height="5.9" rx="0.9" fill="#e4eaf5"/>
<rect x="33.099999999999994" y="113.5" width="1" height="3.7" fill="#0b2055" opacity="0.5"/>
<path d="M28 134.2 L34.4 134.2 L34.4 139 L32 139 M28 134.2 L28 136.4" stroke="#e4eaf5" stroke-width="1.05" fill="none" stroke-linecap="round" stroke-linejoin="round" />
<path d="M25 136.4 L32 136.4 L32 141.5 L25 141.5 Z M28.5 137.7 L28.5 140.2 M27.2 139 L29.8 139" stroke="#e4eaf5" stroke-width="1.05" fill="none" stroke-linecap="round" stroke-linejoin="round" />
<ellipse cx="29.7" cy="161.4" rx="4.6" ry="3.9" fill="none" stroke="#e4eaf5" stroke-width="1.05"/>
<path d="M27.5 161.4 L31.9 161.4" stroke="#e4eaf5" stroke-width="1.05" fill="none" stroke-linecap="round" stroke-linejoin="round" />
<path d="M25.3 184.5 Q25.3 182.6 27.5 182.6 L34 182.6 L32.3 181.3 M34.3 185.5 Q34.3 187.4 32.1 187.4 L25.6 187.4 L27.3 188.7" stroke="#e4eaf5" stroke-width="1.05" fill="none" stroke-linecap="round" stroke-linejoin="round" />
<path d="M10 212 Q9.6 205.5 19.8 205 Q19 212.3 11.6 211 M10.3 211.8 L15.5 207.8" stroke="#e4eaf5" stroke-width="1.05" fill="none" stroke-linecap="round" stroke-linejoin="round" />
<ellipse cx="14.8" cy="232.6" rx="4.8" ry="4" fill="none" stroke="#e4eaf5" stroke-width="1.05"/>
<path d="M13.4 230.5 Q12.3 231.5 12.6 233 Q13.2 234.8 15 234.8 Q16.8 234.6 17.1 233 M14.9 229 L14.9 232.8" stroke="#e4eaf5" stroke-width="1.05" fill="none" stroke-linecap="round" stroke-linejoin="round" />
<path d="M11.5 253.5 L11.8 252.3 L19.8 252.3 L19.8 258.6 L18.8 259.6" stroke="#e4eaf5" stroke-width="1.05" fill="none" stroke-linecap="round" stroke-linejoin="round" />
<path d="M9.6 253.8 L18.6 253.8 L18.6 259.8 L9.6 259.8 Z M11.5 257.8 L16.8 257.8" stroke="#e4eaf5" stroke-width="1.05" fill="none" stroke-linecap="round" stroke-linejoin="round" />
<ellipse cx="12.2" cy="277.6" rx="2.2" ry="1.85" fill="none" stroke="#e4eaf5" stroke-width="1.0"/>
<ellipse cx="17.2" cy="277.6" rx="2.2" ry="1.85" fill="none" stroke="#e4eaf5" stroke-width="1.0"/>
<ellipse cx="12.2" cy="281.8" rx="2.2" ry="1.85" fill="none" stroke="#e4eaf5" stroke-width="1.0"/>
<ellipse cx="17.2" cy="281.8" rx="2.2" ry="1.85" fill="none" stroke="#e4eaf5" stroke-width="1.0"/>
<ellipse cx="14.8" cy="303.5" rx="4.9" ry="4.1" fill="none" stroke="#e4eaf5" stroke-width="1.05"/>
<path d="M14.8 302.5 L14.8 305.6" stroke="#e4eaf5" stroke-width="1.0" fill="none" stroke-linecap="round" stroke-linejoin="round" />
<circle cx="14.8" cy="300.9" r="0.6" fill="#dfe6f3"/>
<path d="M10 323.6 L19.6 323.6 L19.6 329.2 L10 329.2 Z M12.3 325.6 L17.3 325.6 M12.3 327.3 L15.5 327.3" stroke="#e4eaf5" stroke-width="1.05" fill="none" stroke-linecap="round" stroke-linejoin="round" />
<path d="M13.2 330 L16.4 330 L14.8 331 Z" fill="#dfe6f3"/>
<ellipse cx="14.8" cy="349.3" rx="2.2" ry="1.9" fill="none" stroke="#e4eaf5" stroke-width="1.0"/>
<ellipse cx="11.6" cy="353" rx="1.9" ry="1.7" fill="none" stroke="#e4eaf5" stroke-width="1.0"/>
<ellipse cx="18" cy="353" rx="1.9" ry="1.7" fill="none" stroke="#e4eaf5" stroke-width="1.0"/>
<path d="M12.8 348.6 Q10 350.5 9.9 353.2 M16.8 348.6 Q19.6 350.5 19.7 353.2 M12.8 354.6 L16.8 354.6" stroke="#e4eaf5" stroke-width="1.0" fill="none" stroke-linecap="round" stroke-linejoin="round" />
<path d="M19.80 374.50 L17.92 375.98 L17.30 378.05 L14.80 377.45 L12.30 378.05 L11.68 375.98 L9.80 374.50 L11.68 373.02 L12.30 370.95 L14.80 371.55 L17.30 370.95 L17.92 373.02 Z" fill="none" stroke="#e4eaf5" stroke-width="1.0" stroke-linejoin="round"/>
<ellipse cx="14.8" cy="374.5" rx="1.6" ry="1.35" fill="none" stroke="#e4eaf5" stroke-width="1.0"/>
<path d="M755.6 18.3 Q754.8 19.6 752.5 19.7 L749.2 19.7 Q746.7 18.8 746.8 15.6 Q747.2 12 751.8 11.9 Q754.3 11.9 755.6 13" stroke="#e4eaf5" stroke-width="0.95" fill="none" stroke-linecap="round" stroke-linejoin="round" />
<path d="M750.3 18.1 L757 12.1 M748.9 16.3 Q749.2 14.1 751.6 13.7" stroke="#e4eaf5" stroke-width="0.85" fill="none" stroke-linecap="round" stroke-linejoin="round" />
<path d="M776 12.2 L781 19.6 L771 19.6 Z M776 14.9 L776 17.2" stroke="#e4eaf5" stroke-width="0.9" fill="none" stroke-linecap="round" stroke-linejoin="round" />
<circle cx="776" cy="18.5" r="0.45" fill="#dfe6f3"/>
<rect x="795.8" y="14.8" width="10" height="5" rx="1.2" fill="none" stroke="#e4eaf5" stroke-width="0.95"/>
<path d="M798.3 14.8 L798.3 13.6 Q798.4 12 800.8 12 Q803.2 12 803.3 13.6 L803.3 14.8" stroke="#e4eaf5" stroke-width="0.95" fill="none" stroke-linecap="round" stroke-linejoin="round" />
<rect x="800.2" y="16.8" width="1.2" height="1" fill="#dfe6f3"/>
<path d="M823 12.2 Q825 13.8 827 12.2 L830.2 13.8 L829.2 16 L828 15.6 L828 19.7 L822 19.7 L822 15.6 L820.8 16 L819.8 13.8 Z" stroke="#e4eaf5" stroke-width="0.9" fill="none" stroke-linecap="round" stroke-linejoin="round" />
<rect x="844" y="11.9" width="6.8" height="4.6" fill="#b8c3d8"/>
<rect x="845.5" y="12.9" width="3.6" height="2.6" fill="#0b2257"/>
<rect x="847.8" y="14.7" width="7.1" height="5.1" fill="#ffffff"/>
<path d="M850.3 18.7 L851.3 16 L852.3 18.7" stroke="#0b2257" stroke-width="0.6" fill="none"/>
<path d="M869 12.3 L872 15.2 M869 12.3 L869 14.2 M869 12.3 L871 12.3 M878.8 12.3 L875.8 15.2 M878.8 12.3 L878.8 14.2 M878.8 12.3 L876.8 12.3 M869 19.5 L872 16.6 M869 19.5 L869 17.6 M869 19.5 L871 19.5 M878.8 19.5 L875.8 16.6 M878.8 19.5 L878.8 17.6 M878.8 19.5 L876.8 19.5" stroke="#e4eaf5" stroke-width="1.1" fill="none" stroke-linecap="round" stroke-linejoin="round" />
<path d="M900.5 13.5 L898.4 17.6 Q899 21 902.5 21.6 Q905 21.2 905.6 19.6 Q903.5 18.8 901.4 16.3 Z" fill="#2a1fa8"/>
<path d="M903 9.2 Q900 11.5 900.8 13.6 Q901.8 15.6 904.4 17.2 Q906 18.3 906 19.2 Q907.8 17.3 906.8 15.5 Q905.6 13.6 903.6 12.2 Q902.3 10.8 903 9.2 Z" fill="#1fb6f2"/>
</svg>
</body></html>
